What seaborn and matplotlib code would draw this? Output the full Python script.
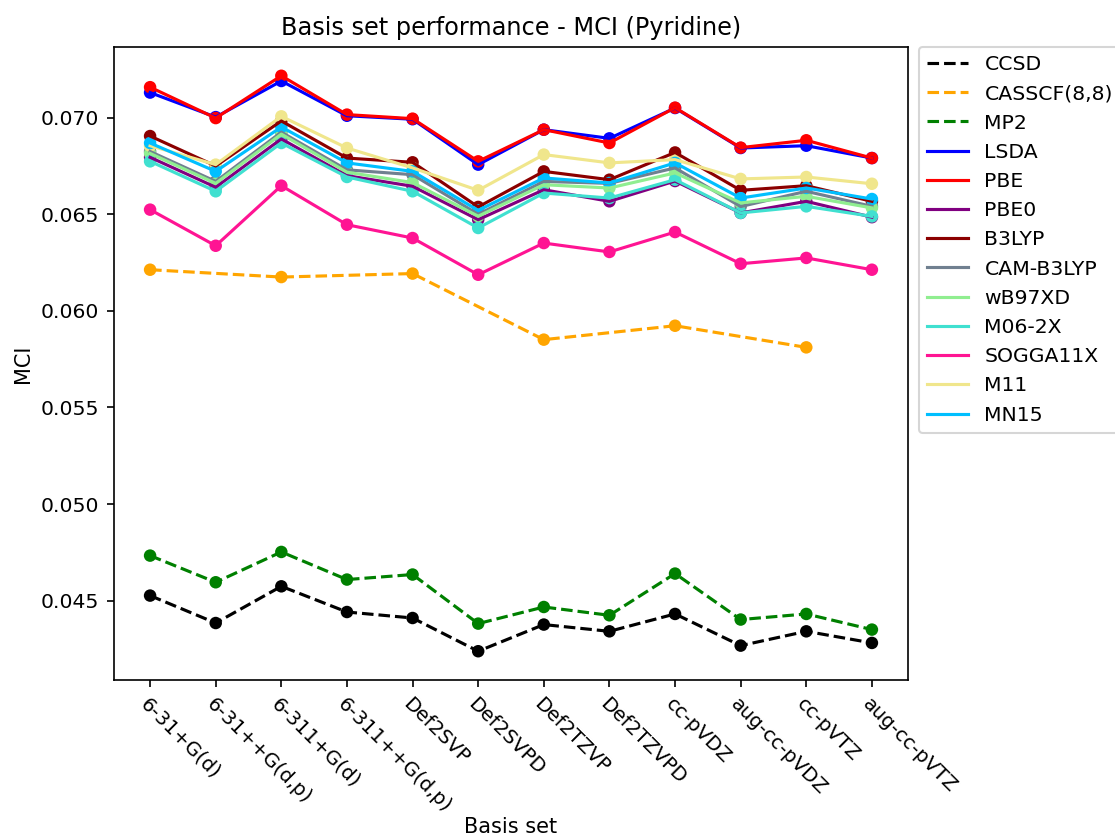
import numpy as np
import pandas as pd
import matplotlib
matplotlib.use("Agg")
import matplotlib.pyplot as plt
import seaborn as sns

nan = np.nan
basis_sets = ['6-31+G(d)', '6-31++G(d,p)', '6-311+G(d)', '6-311++G(d,p)', 'Def2SVP', 'Def2SVPD',
              'Def2TZVP', 'Def2TZVPD', 'cc-pVDZ', 'aug-cc-pVDZ', 'cc-pVTZ', 'aug-cc-pVTZ']

ccsd = [0.04526, 0.04384, 0.04574, 0.04441, 0.04410, 0.04238, 0.04376, 0.04341, 0.04431, 0.04267, 0.04341, 0.04281]
casscf = [0.06213, nan, 0.06175, nan, 0.06193, nan, 0.05851, nan, 0.05923, nan, 0.05811, nan]
mp2 = [0.04733, 0.04595, 0.04752, 0.04609, 0.04635, 0.04381, 0.04467, 0.04424, 0.04640, 0.04402, 0.04431, 0.04350]
lsda = [0.07130, 0.07003, 0.07190, 0.07010, 0.06992, 0.06757, 0.06938, 0.06893, 0.07050, 0.06843, 0.06855, 0.06791]
pbe = [0.07158, 0.06998, 0.07217, 0.07016, 0.06995, 0.06774, 0.06938, 0.06869, 0.07052, 0.06845, 0.06883, 0.06791]
pbe0 = [0.06795, 0.06640, 0.06890, 0.06700, 0.06645, 0.06472, 0.06627, 0.06567, 0.06672, 0.06507, 0.06567, 0.06485]
b3lyp = [0.06905, 0.06750, 0.06983, 0.06791, 0.06769, 0.06538, 0.06722, 0.06679, 0.06820, 0.06624, 0.06648, 0.06567]
cam_b3lyp = [0.06825, 0.06670, 0.06925, 0.06730, 0.06705, 0.06500, 0.06670, 0.06660, 0.06740, 0.06540, 0.06619, 0.06541]
wb97xd = [0.06815, 0.06660, 0.06915, 0.06718, 0.06664, 0.06490, 0.06653, 0.06636, 0.06714, 0.06559, 0.06593, 0.06533]
m062x = [0.06774, 0.06619, 0.06869, 0.06693, 0.06619, 0.06429, 0.06610, 0.06584, 0.06679, 0.06507, 0.06541, 0.06489]
sogga11x = [0.06524, 0.06337, 0.06648, 0.06446, 0.06377, 0.06187, 0.06351, 0.06305, 0.06408, 0.06244, 0.06274, 0.06213]
m11 = [0.06855, 0.06757, 0.07007, 0.06843, 0.06740, 0.06624, 0.06809, 0.06766, 0.06783, 0.06683, 0.06693, 0.06658]
mn15 = [0.06869, 0.06722, 0.06952, 0.06766, 0.06722, 0.06520, 0.06688, 0.06662, 0.06766, 0.06584, 0.06636, 0.06579]

methods = ['CCSD', 'CASSCF(8,8)', 'MP2', 'LSDA', 'PBE', 'PBE0', 'B3LYP', 'CAM-B3LYP',
           'wB97XD', 'M06-2X', 'SOGGA11X', 'M11', 'MN15']
values = [ccsd, casscf, mp2, lsda, pbe, pbe0, b3lyp, cam_b3lyp, wb97xd, m062x, sogga11x, m11, mn15]
colors = ['black', 'orange', 'green', 'blue', 'red', 'purple', 'darkred', 'slategray',
          'lightgreen', 'turquoise', 'deeppink', 'khaki', 'deepskyblue']
dashed = {'CCSD', 'CASSCF(8,8)', 'MP2'}

rows = []
for m, vals in zip(methods, values):
    for i, (b, v) in enumerate(zip(basis_sets, vals)):
        rows.append({'method': m, 'pos': i, 'basis': b, 'MCI': v})
df = pd.DataFrame(rows).dropna()

W, H = 1115, 838
fig = plt.figure(figsize=(W / 150, H / 150), dpi=150)
ax = fig.add_axes([114 / W, 1 - 680 / H, (908 - 114) / W, (680 - 47) / H])

for m, c in zip(methods, colors):
    sub = df[df['method'] == m]
    sns.lineplot(data=sub, x='pos', y='MCI', color=c, ax=ax, label=m,
                 linestyle='--' if m in dashed else '-', linewidth=1.5, sort=True)
    sns.scatterplot(data=sub, x='pos', y='MCI', color=c, ax=ax, s=36,
                    edgecolor='none', legend=False)

ax.set_xticks(range(len(basis_sets)))
ax.set_xticklabels(basis_sets, rotation=-45, ha='left', rotation_mode='anchor', fontsize=9.5)
ax.tick_params(axis='y', labelsize=9.8)
ax.set_xlabel('Basis set')
ax.xaxis.set_label_coords(0.5, -0.216)
ax.set_ylabel('MCI')
ax.set_title('Basis set performance - MCI (Pyridine)', fontsize=11.5)
ax.legend(bbox_to_anchor=(1.014, 1), loc='upper left', borderaxespad=0, fontsize=9.8)

fig.savefig('out.png', dpi=150)
